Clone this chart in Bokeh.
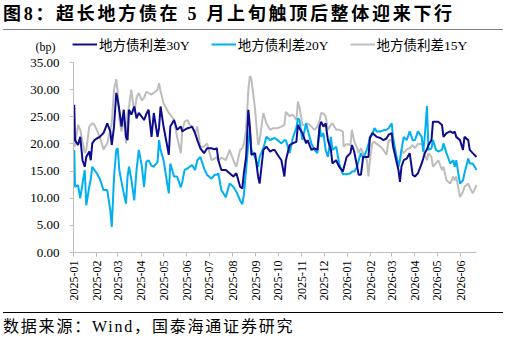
import math
import pandas as pd
from bokeh.plotting import figure
from bokeh.layouts import column
from bokeh.models import (ColumnDataSource, Range1d, FixedTicker, DatetimeTickFormatter,
                          NumeralTickFormatter, Legend, LegendItem, Div, Label)
from bokeh.embed import file_html
from bokeh.resources import INLINE

# ---- data: local-government bond spreads (bp) ----
dates = [
    "2025-01-02", "2025-01-03", "2025-01-07", "2025-01-10", "2025-01-13", "2025-01-16", "2025-01-18",
    "2025-01-22", "2025-01-24", "2025-01-26", "2025-01-29", "2025-02-01", "2025-02-05", "2025-02-10",
    "2025-02-15", "2025-02-19", "2025-02-21", "2025-02-24", "2025-02-27", "2025-03-01", "2025-03-03",
    "2025-03-06", "2025-03-09", "2025-03-12", "2025-03-14", "2025-03-16", "2025-03-19", "2025-03-23",
    "2025-03-26", "2025-03-29", "2025-04-02", "2025-04-05", "2025-04-08", "2025-04-11", "2025-04-15",
    "2025-04-18", "2025-04-23", "2025-04-25", "2025-04-27", "2025-05-01", "2025-05-08", "2025-05-10",
    "2025-05-15", "2025-05-19", "2025-05-24", "2025-05-26", "2025-05-29", "2025-06-02", "2025-06-05",
    "2025-06-08", "2025-06-12", "2025-06-15", "2025-06-19", "2025-06-24", "2025-06-28", "2025-07-04",
    "2025-07-08", "2025-07-11", "2025-07-13", "2025-07-17", "2025-07-23", "2025-07-28", "2025-08-02",
    "2025-08-06", "2025-08-11", "2025-08-14", "2025-08-16", "2025-08-19", "2025-08-22", "2025-08-24",
    "2025-08-26", "2025-08-31", "2025-09-04", "2025-09-06", "2025-09-11", "2025-09-15", "2025-09-20",
    "2025-09-24", "2025-09-26", "2025-09-30", "2025-10-05", "2025-10-09", "2025-10-11", "2025-10-16",
    "2025-10-20", "2025-10-25", "2025-10-27", "2025-10-29", "2025-11-02", "2025-11-07", "2025-11-09",
    "2025-11-14", "2025-11-18", "2025-11-22", "2025-11-25", "2025-11-27", "2025-11-30", "2025-12-03",
    "2025-12-06", "2025-12-10", "2025-12-12", "2025-12-17", "2025-12-21", "2025-12-26", "2025-12-27",
    "2025-12-31", "2026-01-05", "2026-01-07", "2026-01-10", "2026-01-14", "2026-01-16", "2026-01-19",
    "2026-01-22", "2026-01-27", "2026-01-29", "2026-01-31", "2026-02-03", "2026-02-06", "2026-02-09",
    "2026-02-14", "2026-02-18", "2026-02-22", "2026-02-25", "2026-03-01", "2026-03-03", "2026-03-07",
    "2026-03-10", "2026-03-12", "2026-03-14", "2026-03-17", "2026-03-21", "2026-03-25", "2026-03-29",
    "2026-04-01", "2026-04-05", "2026-04-10", "2026-04-12", "2026-04-14", "2026-04-17", "2026-04-19",
    "2026-04-23", "2026-04-25", "2026-04-29", "2026-05-02", "2026-05-07", "2026-05-09", "2026-05-13",
    "2026-05-18", "2026-05-22", "2026-05-24", "2026-05-26", "2026-05-31", "2026-06-04", "2026-06-06",
    "2026-06-11", "2026-06-13", "2026-06-17", "2026-06-22",
]

spread_30y = [
    27.2, 20.7, 19.8, 21.3, 17.0, 15.8, 17.6, 18.6, 17.0, 20.1, 20.7, 21.0, 21.3, 22.0,
    23.8, 22.3, 19.8, 23.2, 29.4, 28.1, 26.3, 23.2, 26.3, 21.3, 20.7, 26.3, 25.4, 26.9,
    24.7, 25.7, 25.0, 24.4, 25.5, 26.3, 21.3, 25.7, 21.3, 23.0, 26.9, 23.2, 18.0, 23.2,
    24.4, 22.6, 23.2, 22.3, 22.6, 22.9, 23.0, 23.2, 22.0, 20.7, 19.2, 18.3, 19.2, 19.2,
    19.0, 19.2, 17.0, 15.2, 15.2, 14.6, 14.0, 14.6, 12.1, 11.8, 14.6, 17.6, 26.3, 23.2,
    18.0, 18.3, 14.0, 12.7, 18.9, 19.5, 18.6, 18.9, 18.9, 18.0, 17.0, 14.0, 17.0, 19.8,
    20.1, 20.4, 23.5, 22.9, 22.0, 20.1, 20.7, 18.9, 19.2, 18.9, 23.2, 24.1, 23.2, 23.8,
    20.7, 18.9, 16.4, 17.0, 15.8, 14.9, 15.5, 17.6, 18.3, 19.8, 18.6, 15.8, 14.3, 14.3,
    17.6, 17.6, 17.6, 21.1, 22.0, 21.7, 21.3, 21.1, 20.7, 21.0, 21.7, 22.0, 19.5, 17.0,
    15.2, 13.0, 15.8, 17.0, 17.3, 18.3, 14.3, 14.0, 14.6, 16.4, 17.3, 18.3, 19.0, 19.8,
    20.7, 24.1, 24.1, 24.1, 23.5, 21.3, 22.0, 22.3, 22.0, 22.3, 21.3, 20.7, 18.9, 21.3,
    20.7, 18.9, 18.3, 17.6,
]

spread_20y = [
    18.9, 12.1, 12.4, 10.0, 12.7, 15.2, 8.7, 12.1, 13.5, 15.8, 15.2, 14.6, 13.6, 11.5,
    11.5, 7.8, 4.7, 14.0, 18.9, 19.2, 15.2, 13.0, 10.9, 9.0, 14.0, 15.8, 13.5, 9.6,
    15.2, 18.9, 16.0, 12.1, 16.7, 17.0, 16.0, 15.8, 16.7, 20.7, 18.9, 17.0, 10.9, 16.4,
    14.0, 14.0, 12.0, 13.0, 15.2, 15.5, 15.8, 16.1, 15.2, 17.0, 17.6, 15.5, 14.3, 13.6,
    14.3, 14.3, 14.6, 11.5, 10.2, 12.7, 12.1, 11.2, 9.6, 8.9, 10.6, 15.2, 20.1, 22.6,
    18.9, 17.5, 15.8, 17.6, 19.2, 21.3, 20.7, 21.0, 21.1, 20.7, 20.1, 20.7, 20.7, 18.3,
    21.0, 23.0, 24.7, 24.4, 20.7, 23.8, 22.6, 20.1, 18.9, 18.3, 23.2, 21.3, 22.0, 18.9,
    17.6, 21.3, 18.9, 19.5, 16.4, 14.4, 14.4, 14.4, 14.6, 14.9, 14.9, 15.8, 17.0, 18.3,
    17.3, 19.0, 20.0, 21.3, 21.7, 22.9, 22.3, 22.3, 22.5, 22.6, 22.9, 23.8, 21.0, 18.0,
    15.8, 17.0, 18.9, 21.3, 20.7, 22.3, 20.7, 20.7, 22.3, 21.3, 18.6, 21.3, 27.0, 18.9,
    19.2, 20.7, 18.9, 18.6, 18.9, 20.1, 18.3, 16.4, 17.0, 15.8, 17.0, 12.7, 13.3, 14.6,
    17.3, 16.4, 16.4, 15.2,
]

spread_15y = [
    22.0, 19.5, 23.5, 22.6, 20.4, 18.3, 18.9, 23.2, 23.5, 23.8, 23.5, 22.6, 21.3, 19.0,
    20.1, 22.6, 23.8, 30.0, 31.9, 29.4, 24.4, 22.3, 25.0, 20.1, 25.7, 26.9, 30.0, 25.7,
    28.5, 29.4, 28.0, 28.5, 29.6, 29.4, 29.1, 29.4, 30.0, 31.2, 29.7, 27.5, 25.7, 25.4,
    24.4, 21.3, 18.3, 22.6, 24.1, 24.4, 23.5, 23.2, 22.0, 23.2, 19.5, 19.5, 20.1, 17.0,
    17.3, 17.6, 16.8, 17.5, 17.0, 18.9, 17.0, 15.8, 18.9, 19.2, 20.0, 22.6, 30.0, 32.5,
    32.0, 26.3, 19.8, 20.7, 25.7, 23.8, 22.6, 22.9, 22.9, 22.9, 23.2, 23.5, 25.9, 25.1,
    25.4, 24.4, 27.8, 26.9, 23.5, 23.5, 23.8, 23.2, 22.6, 23.2, 24.4, 25.7, 25.6, 25.1,
    22.6, 23.5, 23.8, 22.6, 22.6, 22.3, 19.5, 20.0, 19.8, 22.6, 20.5, 19.2, 18.3, 19.2,
    18.3, 17.0, 14.0, 17.0, 20.1, 20.4, 20.0, 19.5, 18.9, 18.0, 20.7, 20.7, 19.2, 17.6,
    16.7, 17.0, 18.9, 18.3, 19.0, 19.2, 19.8, 19.2, 20.0, 20.0, 19.5, 18.0, 17.0, 18.3,
    17.6, 15.8, 16.4, 17.0, 15.2, 15.8, 13.3, 12.7, 14.0, 13.3, 14.0, 10.2, 11.2, 12.1,
    12.7, 12.0, 10.9, 12.4,
]

series_names = ["地方债利差30Y", "地方债利差20Y", "地方债利差15Y"]
series_colors = ["#0C0C8C", "#00B0F0", "#BDBDBD"]
y_ticks = [0, 5, 10, 15, 20, 25, 30, 35]
month_ticks = pd.date_range("2025-01-01", "2026-06-01", freq="MS")
axis_start, axis_end = pd.Timestamp("2025-01-01"), pd.Timestamp("2026-06-22")

title_text = "图8：超长地方债在 5 月上旬触顶后整体迎来下行"
source_text = "数据来源：Wind，国泰海通证券研究"
unit_text = "(bp)"

SERIF = "'Liberation Serif'"
MIXED = "'Liberation Serif', 'Noto Sans CJK SC'"

src = ColumnDataSource(dict(
    date=pd.to_datetime(dates),
    s30=spread_30y,
    s20=spread_20y,
    s15=spread_15y,
))

# ---- page geometry (pixels) ----
W = 510
HEAD_H, FOOT_H = 31, 31
FIG_H = 343 - HEAD_H - FOOT_H
# axis box inside the figure (the figure's frame fills the whole figure)
AX_L, AX_R = 73, 476
AX_T, AX_B = 62 - HEAD_H, 252 - HEAD_H

# extend the ranges so the axes land on the box above
span_days = (axis_end - axis_start) / pd.Timedelta(days=1)
px_per_day = (AX_R - AX_L) / span_days
x_lo = axis_start - pd.Timedelta(days=AX_L / px_per_day)
x_hi = axis_end + pd.Timedelta(days=(W - AX_R) / px_per_day)
px_per_unit = (AX_B - AX_T) / (y_ticks[-1] - y_ticks[0])
y_hi = y_ticks[-1] + AX_T / px_per_unit
y_lo = y_ticks[0] - (FIG_H - AX_B) / px_per_unit

header = Div(
    text=(f'<div style="width:500px;height:30px;margin-left:3px;'
          f'border-bottom:1px solid #808080;font-family:{MIXED};'
          f'font-size:18px;font-weight:bold;letter-spacing:2.7px;line-height:29px;'
          f'color:#000;white-space:nowrap;">{title_text}</div>'),
    width=W, height=HEAD_H, margin=(0, 0, 0, 0),
)
footer = Div(
    text=(f'<div style="width:500px;height:30px;margin-left:3px;'
          f'border-top:1px solid #000;font-family:{MIXED};'
          f'font-size:16px;letter-spacing:1.8px;line-height:28px;'
          f'color:#000;white-space:nowrap;">{source_text}</div>'),
    width=W, height=FOOT_H, margin=(0, 0, 0, 0),
)

p = figure(
    width=W, height=FIG_H, x_axis_type="datetime",
    x_range=Range1d(x_lo, x_hi), y_range=Range1d(y_lo, y_hi),
    output_backend="svg", toolbar_location=None,
    min_border_left=0, min_border_right=0, min_border_top=0, min_border_bottom=0,
    margin=(0, 0, 0, 0),
)
p.outline_line_color = None
p.xgrid.visible = False
p.ygrid.visible = False
p.background_fill_color = "white"
p.border_fill_color = "white"

axis_grey = "#BFBFBF"
start_ms = axis_start.value / 1e6
end_ms = axis_end.value / 1e6

# y axis, pinned to the first date
p.yaxis.fixed_location = start_ms
p.yaxis.bounds = (y_ticks[0], y_ticks[-1])
p.yaxis.ticker = FixedTicker(ticks=y_ticks)
p.yaxis.formatter = NumeralTickFormatter(format="0.00")
p.yaxis.axis_line_color = axis_grey
p.yaxis.major_tick_line_color = axis_grey
p.yaxis.major_tick_out = 4
p.yaxis.major_tick_in = 0
p.yaxis.minor_tick_line_color = None
p.yaxis.major_label_text_font = SERIF
p.yaxis.major_label_text_font_size = "13px"
p.yaxis.major_label_text_color = "#000000"
p.yaxis.major_label_standoff = 10

# x axis, pinned to zero, one tick per month
p.xaxis.fixed_location = 0
p.xaxis.bounds = (start_ms, end_ms)
p.xaxis.ticker = FixedTicker(ticks=[t.value // 10**6 for t in month_ticks])
fmt = "%Y-%m"
p.xaxis.formatter = DatetimeTickFormatter(
    milliseconds=fmt, seconds=fmt, minsec=fmt, minutes=fmt, hourmin=fmt,
    hours=fmt, days=fmt, months=fmt, years=fmt)
p.xaxis.major_label_orientation = math.pi / 2
p.xaxis.axis_line_color = axis_grey
p.xaxis.major_tick_line_color = axis_grey
p.xaxis.major_tick_out = 4
p.xaxis.major_tick_in = 0
p.xaxis.minor_tick_line_color = None
p.xaxis.major_label_text_font = SERIF
p.xaxis.major_label_text_font_size = "12px"
p.xaxis.major_label_text_color = "#000000"
p.xaxis.major_label_standoff = 4

# series lines (grey drawn first so the blues sit on top)
renderers = {}
for col, color in [("s15", series_colors[2]), ("s20", series_colors[1]), ("s30", series_colors[0])]:
    renderers[col] = p.line(x="date", y=col, source=src, line_color=color, line_width=2)

LEG_H = 14
legend = Legend(
    items=[LegendItem(label=n, renderers=[renderers[c]])
           for n, c in zip(series_names, ["s30", "s20", "s15"])],
    orientation="horizontal",
    location=(72, FIG_H - (54 - HEAD_H)),
    glyph_width=25, glyph_height=LEG_H, label_height=LEG_H,
    label_standoff=2, spacing=21,
    label_text_font=MIXED, label_text_font_size="13.5px", label_text_color="#000000",
    border_line_color=None, background_fill_alpha=0,
    padding=0, margin=0,
)
p.add_layout(legend)

# unit caption above the value axis
p.add_layout(Label(x=45, y=FIG_H - (46 - HEAD_H), x_units="screen", y_units="screen",
                   text=unit_text, text_font=SERIF, text_font_size="12px",
                   text_color="#000000", text_align="center", text_baseline="middle"))

layout = column(header, p, footer, spacing=0, margin=(0, 0, 0, 0))
open("out.html", "w").write(file_html(layout, INLINE))
